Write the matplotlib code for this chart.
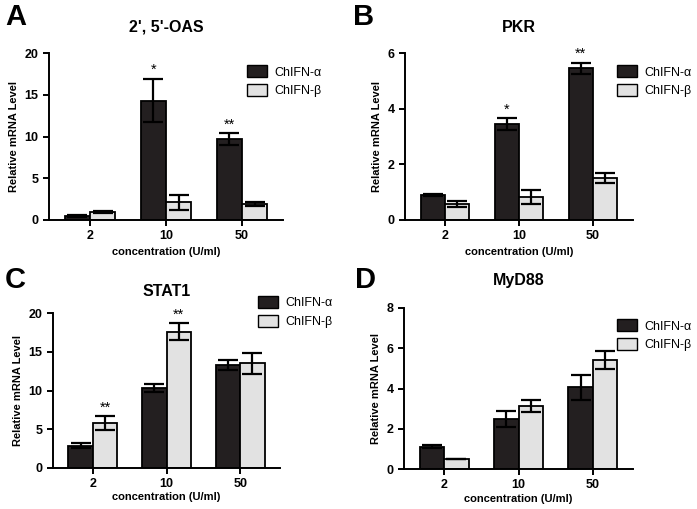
import matplotlib
matplotlib.use("Agg")
import matplotlib.pyplot as plt
import numpy as np

plt.rcParams['font.family'] = ['Liberation Sans', 'DejaVu Sans']

categories = ["2", "10", "50"]
series = ["ChIFN-\u03b1", "ChIFN-\u03b2"]

oas_alpha = [0.45, 14.3, 9.7]
oas_alpha_err = [0.1, 2.6, 0.7]
oas_beta = [1.0, 2.1, 1.95]
oas_beta_err = [0.12, 0.9, 0.25]
oas_stars_alpha = ["", "*", "**"]
oas_stars_beta = ["", "", ""]

pkr_alpha = [0.9, 3.45, 5.45]
pkr_alpha_err = [0.05, 0.2, 0.2]
pkr_beta = [0.57, 0.82, 1.52]
pkr_beta_err = [0.1, 0.25, 0.18]
pkr_stars_alpha = ["", "*", "**"]
pkr_stars_beta = ["", "", ""]

stat_alpha = [2.9, 10.3, 13.3]
stat_alpha_err = [0.35, 0.5, 0.7]
stat_beta = [5.8, 17.6, 13.5]
stat_beta_err = [0.9, 1.1, 1.4]
stat_stars_alpha = ["", "", ""]
stat_stars_beta = ["**", "**", ""]

myd_alpha = [1.1, 2.5, 4.05]
myd_alpha_err = [0.08, 0.4, 0.6]
myd_beta = [0.52, 3.15, 5.4]
myd_beta_err = [0.0, 0.3, 0.45]

W, H = 697, 509
fig = plt.figure(figsize=(W / 100, H / 100), dpi=100)

def px_axes(left, right, top, bottom):
    return fig.add_axes([left / W, 1 - bottom / H, (right - left) / W, (bottom - top) / H])

panels = [
    dict(box=(49, 283, 53, 220), title="2', 5'-OAS", letter="A", lx=5, ly=3,
         a=oas_alpha, ae=oas_alpha_err, b=oas_beta, be=oas_beta_err,
         sa=oas_stars_alpha, sb=oas_stars_beta, ylim=20, yt=[0, 5, 10, 15, 20],
         leg=(248, 67), ty=27, xpad=3),
    dict(box=(405, 633, 53, 220), title="PKR", letter="B", lx=353, ly=3,
         a=pkr_alpha, ae=pkr_alpha_err, b=pkr_beta, be=pkr_beta_err,
         sa=pkr_stars_alpha, sb=pkr_stars_beta, ylim=6, yt=[0, 2, 4, 6],
         leg=(618, 67), ty=27, xpad=3),
    dict(box=(53, 280, 313, 468), title="STAT1", letter="C", lx=5, ly=266,
         a=stat_alpha, ae=stat_alpha_err, b=stat_beta, be=stat_beta_err,
         sa=stat_stars_alpha, sb=stat_stars_beta, ylim=20, yt=[0, 5, 10, 15, 20],
         leg=(259, 298), ty=291, xpad=1.5),
    dict(box=(404, 633, 308, 469), title="MyD88", letter="D", lx=355, ly=266,
         a=myd_alpha, ae=myd_alpha_err, b=myd_beta, be=myd_beta_err,
         sa=["", "", ""], sb=["", "", ""], ylim=8, yt=[0, 2, 4, 6, 8],
         leg=(618, 321), ty=281, xpad=1.5),
]

x = np.arange(len(categories))
bw = 0.33
dark = "#231f20"
light = "#e2e2e2"

for p in panels:
    ax = px_axes(*p["box"])
    ax.bar(x - bw / 2, p["a"], bw, color=dark, edgecolor="black", linewidth=1.3, zorder=2)
    ax.bar(x + bw / 2, p["b"], bw, color=light, edgecolor="black", linewidth=1.3, zorder=2)
    ax.errorbar(x - bw / 2, p["a"], yerr=p["ae"], fmt="none", ecolor="black",
                elinewidth=1.6, capsize=7.5, capthick=1.6, zorder=3)
    ax.errorbar(x + bw / 2, p["b"], yerr=p["be"], fmt="none", ecolor="black",
                elinewidth=1.6, capsize=7.5, capthick=1.6, zorder=3)
    for i in range(len(categories)):
        if p["sa"][i]:
            ax.text(x[i] - bw / 2, p["a"][i] + p["ae"][i] + p["ylim"] * 0.01, p["sa"][i],
                    ha="center", va="bottom", fontsize=10.5)
        if p["sb"][i]:
            ax.text(x[i] + bw / 2, p["b"][i] + p["be"][i] + p["ylim"] * 0.01, p["sb"][i],
                    ha="center", va="bottom", fontsize=10.5)
    ax.set_xlim(-0.54, 2.54)
    ax.set_ylim(0, p["ylim"])
    ax.set_yticks(p["yt"])
    ax.set_xticks(x)
    ax.set_xticklabels(categories)
    for s in ["top", "right"]:
        ax.spines[s].set_visible(False)
    for s in ["left", "bottom"]:
        ax.spines[s].set_linewidth(1.4)
    ax.tick_params(width=1.4, length=4, labelsize=9)
    for lab in ax.get_xticklabels() + ax.get_yticklabels():
        lab.set_fontweight("bold")
    ax.set_ylabel("Relative mRNA Level", fontsize=8, fontweight="bold", labelpad=4)
    ax.set_xlabel("concentration (U/ml)", fontsize=8, fontweight="bold", labelpad=p["xpad"])
    l, r, t, b = p["box"]
    fig.text(((l + r) / 2) / W, 1 - p["ty"] / H, p["title"], ha="center", va="center",
             fontsize=11.5, fontweight="bold")
    fig.text(p["lx"] / W, 1 - p["ly"] / H, p["letter"], ha="left", va="top",
             fontsize=21, fontweight="bold")
    h = [plt.Rectangle((0, 0), 1, 1, facecolor=dark, edgecolor="black", linewidth=1),
         plt.Rectangle((0, 0), 1, 1, facecolor=light, edgecolor="black", linewidth=1)]
    lx, ly = p["leg"]
    fig.legend(h, series, loc="upper left",
               bbox_to_anchor=((lx - 12) / W, 1 - (ly - 13) / H),
               frameon=False, fontsize=9, handlelength=1.6, handleheight=1.1,
               handletextpad=0.6, labelspacing=0.45)

fig.savefig("out.png", dpi=100)
